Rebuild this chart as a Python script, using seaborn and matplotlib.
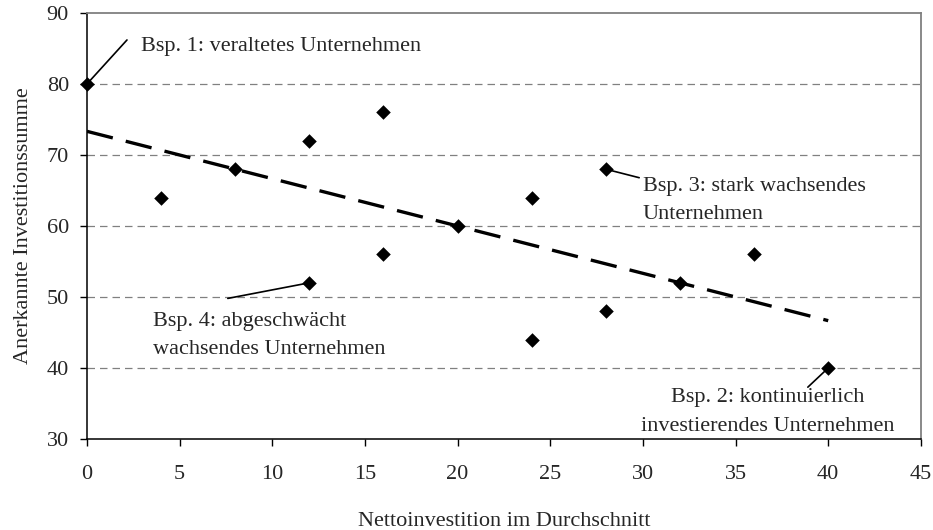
import numpy as np
import pandas as pd
import seaborn as sns
import matplotlib.pyplot as plt

# data
netto = [0, 4, 8, 12, 12, 16, 16, 20, 24, 24, 28, 28, 32, 36, 40]
summe = [80, 64, 68, 72, 52, 76, 56, 60, 64, 44, 68, 48, 52, 56, 40]
x_ticks = [0, 5, 10, 15, 20, 25, 30, 35, 40, 45]
y_ticks = [30, 40, 50, 60, 70, 80, 90]

df = pd.DataFrame({'netto': netto, 'summe': summe})

sns.set_theme(style='white')
plt.rcParams['font.family'] = ['Liberation Serif', 'DejaVu Serif']

fig = plt.figure(figsize=(9.33, 5.30), dpi=100)
ax = fig.add_axes([0.0932, 0.1717, 0.8938, 0.8038])

# grid lines first so the marks sit on top
for yv in y_ticks[1:-1]:
    ax.axhline(yv, color='#808080', lw=0.9, ls=(0, (6, 4)), zorder=0)

# trend line
sns.regplot(data=df, x='netto', y='summe', ci=None, scatter=False, ax=ax,
            line_kws={'color': 'black', 'lw': 2.4, 'ls': (0, (8, 4))})

# points
sns.scatterplot(data=df, x='netto', y='summe', marker='D', s=55,
                color='black', edgecolor='black', linewidth=0, ax=ax, zorder=3,
                clip_on=False)

ax.set_xlim(0, 45)
ax.set_ylim(30, 90)
ax.set_xticks(x_ticks)
ax.set_yticks(y_ticks)
ax.tick_params(axis='x', direction='out', length=5, width=1, color='black',
               labelsize=16, pad=14, bottom=True)
ax.tick_params(axis='y', direction='out', length=5, width=1, color='black',
               labelsize=16, pad=8, left=True)

for side in ['left', 'bottom']:
    ax.spines[side].set_color('black')
    ax.spines[side].set_linewidth(1.1)
for side in ['top', 'right']:
    ax.spines[side].set_color('#808080')
    ax.spines[side].set_linewidth(1.3)

ax.set_xlabel('Nettoinvestition im Durchschnitt', fontsize=16, labelpad=20)
ax.set_ylabel('Anerkannte Investitionssumme', fontsize=16, labelpad=10)

fs = 16
ls = 1.65
# annotations
arrow = {'arrowstyle': '-', 'color': 'black', 'lw': 1.2, 'shrinkA': 0, 'shrinkB': 0}
ax.annotate('', xy=(0, 80), xytext=(2.16, 86.2), arrowprops=arrow)
ax.text(2.9, 85.3, 'Bsp. 1: veraltetes Unternehmen', fontsize=fs, va='center')

ax.annotate('', xy=(28, 68), xytext=(29.8, 66.8), arrowprops=arrow)
ax.text(30.0, 63.6, 'Bsp. 3: stark wachsendes\nUnternehmen', fontsize=fs,
        va='center', ha='left', linespacing=ls)

ax.annotate('', xy=(12, 52), xytext=(7.6, 49.8), arrowprops=arrow)
ax.text(3.55, 44.6, 'Bsp. 4: abgeschwächt\nwachsendes Unternehmen', fontsize=fs,
        va='center', ha='left', linespacing=ls)

ax.annotate('', xy=(40, 40), xytext=(38.9, 37.3), arrowprops=arrow)
ax.text(36.75, 33.8, 'Bsp. 2: kontinuierlich\ninvestierendes Unternehmen', fontsize=fs,
        va='center', ha='center', linespacing=ls)

fig.savefig('out.png', dpi=100)
